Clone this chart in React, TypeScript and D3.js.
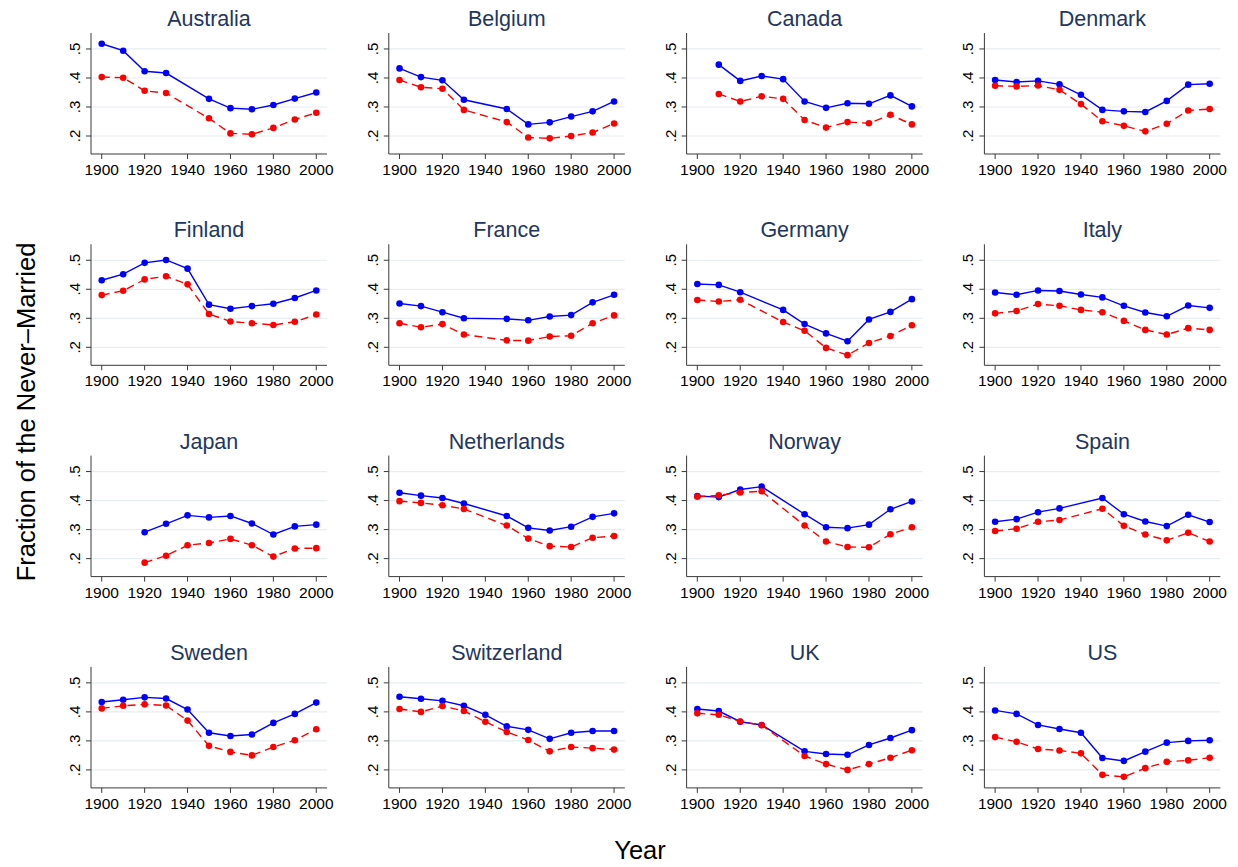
import React from "react";
import * as d3 from "d3";

// Census years shared by every country; null marks a year with no observation
const YEARS = [1900, 1910, 1920, 1930, 1940, 1950, 1960, 1970, 1980, 1990, 2000];

const COUNTRIES = [
  "Australia", "Belgium", "Canada", "Denmark",
  "Finland", "France", "Germany", "Italy",
  "Japan", "Netherlands", "Norway", "Spain",
  "Sweden", "Switzerland", "UK", "US",
];

// Solid blue series
const SOLID_SERIES: (number | null)[][] = [
  [0.518, 0.494, 0.423, 0.417, null, 0.328, 0.296, 0.292, 0.307, 0.329, 0.350],
  [0.433, 0.403, 0.392, 0.325, null, 0.293, 0.240, 0.247, 0.267, 0.285, 0.319],
  [null, 0.446, 0.390, 0.407, 0.396, 0.319, 0.297, 0.313, 0.311, 0.340, 0.302],
  [0.393, 0.386, 0.390, 0.378, 0.342, 0.290, 0.285, 0.283, 0.321, 0.377, 0.380],
  [0.431, 0.452, 0.491, 0.501, 0.471, 0.347, 0.333, 0.342, 0.350, 0.370, 0.396],
  [0.351, 0.342, 0.321, 0.300, null, 0.298, 0.293, 0.306, 0.311, 0.355, 0.381],
  [0.418, 0.415, 0.390, null, 0.329, 0.280, 0.248, 0.221, 0.296, 0.322, 0.366],
  [0.389, 0.381, 0.396, 0.394, 0.382, 0.372, 0.343, 0.320, 0.307, 0.344, 0.336],
  [null, null, 0.291, 0.320, 0.349, 0.342, 0.347, 0.321, 0.283, 0.311, 0.317],
  [0.427, 0.417, 0.409, 0.390, null, 0.347, 0.306, 0.297, 0.310, 0.344, 0.356],
  [0.416, 0.412, 0.438, 0.448, null, 0.353, 0.308, 0.305, 0.317, 0.370, 0.397],
  [0.327, 0.336, 0.360, 0.373, null, 0.409, 0.353, 0.328, 0.312, 0.351, 0.326],
  [0.434, 0.442, 0.450, 0.446, 0.408, 0.328, 0.317, 0.322, 0.362, 0.393, 0.432],
  [0.452, 0.445, 0.438, 0.421, 0.390, 0.350, 0.338, 0.307, 0.328, 0.334, 0.334],
  [0.410, 0.403, 0.366, 0.355, null, 0.264, 0.255, 0.252, 0.286, 0.310, 0.337],
  [0.405, 0.393, 0.355, 0.341, 0.328, 0.241, 0.231, 0.263, 0.294, 0.300, 0.302],
];

// Dashed red series
const DASHED_SERIES: (number | null)[][] = [
  [0.403, 0.401, 0.356, 0.348, null, 0.261, 0.209, 0.206, 0.228, 0.257, 0.280],
  [0.393, 0.368, 0.363, 0.290, null, 0.248, 0.195, 0.192, 0.200, 0.212, 0.243],
  [null, 0.345, 0.319, 0.337, 0.328, 0.255, 0.229, 0.248, 0.244, 0.273, 0.240],
  [0.373, 0.371, 0.374, 0.359, 0.310, 0.251, 0.235, 0.216, 0.242, 0.288, 0.293],
  [0.380, 0.395, 0.434, 0.445, 0.417, 0.315, 0.289, 0.283, 0.277, 0.288, 0.313],
  [0.283, 0.269, 0.280, 0.244, null, 0.224, 0.223, 0.237, 0.240, 0.283, 0.310],
  [0.363, 0.358, 0.364, null, 0.287, 0.257, 0.198, 0.173, 0.215, 0.239, 0.276],
  [0.317, 0.325, 0.349, 0.343, 0.329, 0.321, 0.291, 0.260, 0.244, 0.266, 0.260],
  [null, null, 0.186, 0.210, 0.246, 0.254, 0.268, 0.246, 0.207, 0.235, 0.236],
  [0.398, 0.392, 0.384, 0.371, null, 0.314, 0.269, 0.243, 0.240, 0.272, 0.278],
  [0.413, 0.418, 0.428, 0.432, null, 0.314, 0.259, 0.240, 0.239, 0.284, 0.308],
  [0.295, 0.303, 0.327, 0.333, null, 0.372, 0.313, 0.283, 0.263, 0.289, 0.259],
  [0.412, 0.421, 0.426, 0.422, 0.370, 0.283, 0.262, 0.250, 0.279, 0.302, 0.340],
  [0.410, 0.400, 0.420, 0.403, 0.366, 0.331, 0.303, 0.264, 0.279, 0.275, 0.270],
  [0.395, 0.390, 0.367, 0.354, null, 0.248, 0.220, 0.200, 0.220, 0.242, 0.268],
  [0.313, 0.297, 0.272, 0.267, 0.257, 0.183, 0.176, 0.206, 0.228, 0.233, 0.242],
];

const Y_TICKS = [0.2, 0.3, 0.4, 0.5];
const X_TICKS = [1900, 1920, 1940, 1960, 1980, 2000];

const WIDTH = 1238;
const HEIGHT = 867;
const FONT = "'Liberation Sans', Arial, Helvetica, sans-serif";

const COL_X0 = 91;
const COL_STEP = 297.8;
const ROW_Y0 = 33;
const ROW_STEP = 211.3;
const PLOT_W = 236;
const PLOT_H = 121;

const SOLID_COLOR = "#0000ff";
const DASHED_COLOR = "#ff0000";
const TITLE_COLOR = "#23365e";
const GRID_COLOR = "#e6eef1";
const AXIS_COLOR = "#3a3a3a";

type Pt = { year: number; value: number };

function toPoints(values: (number | null)[]): Pt[] {
  const out: Pt[] = [];
  values.forEach((v, i) => {
    if (v !== null) out.push({ year: YEARS[i], value: v });
  });
  return out;
}

function Panel({ index }: { index: number }) {
  const col = index % 4;
  const row = Math.floor(index / 4);
  const x0 = COL_X0 + col * COL_STEP;
  const top = ROW_Y0 + row * ROW_STEP;
  const bottom = top + PLOT_H;

  const x = d3.scaleLinear().domain([1895, 2005]).range([x0, x0 + PLOT_W]);
  const y = d3.scaleLinear().domain([0.138, 0.555]).range([bottom, top]);

  const line = d3
    .line<Pt>()
    .x((d) => x(d.year))
    .y((d) => y(d.value));

  const solid = toPoints(SOLID_SERIES[index]);
  const dashed = toPoints(DASHED_SERIES[index]);

  return (
    <g>
      <text
        x={x0 + PLOT_W / 2}
        y={top - 7}
        textAnchor="middle"
        fontSize={21.5}
        fill={TITLE_COLOR}
        fontFamily={FONT}
      >
        {COUNTRIES[index]}
      </text>
      {Y_TICKS.map((t) => (
        <line
          key={`g${t}`}
          x1={x0}
          x2={x0 + PLOT_W}
          y1={y(t)}
          y2={y(t)}
          stroke={GRID_COLOR}
          strokeWidth={1.2}
        />
      ))}
      <line x1={x0} x2={x0} y1={top} y2={bottom} stroke={AXIS_COLOR} strokeWidth={1} />
      <line x1={x0} x2={x0 + PLOT_W} y1={bottom} y2={bottom} stroke={AXIS_COLOR} strokeWidth={1} />
      {Y_TICKS.map((t) => (
        <g key={`y${t}`}>
          <line x1={x0 - 5} x2={x0} y1={y(t)} y2={y(t)} stroke={AXIS_COLOR} strokeWidth={1} />
          <text
            transform={`translate(${x0 - 11},${y(t)}) rotate(-90)`}
            textAnchor="middle"
            fontSize={15}
            fill="#000"
            fontFamily={FONT}
          >
            {d3.format(".1f")(t).replace(/^0/, "")}
          </text>
        </g>
      ))}
      {X_TICKS.map((t) => (
        <g key={`x${t}`}>
          <line x1={x(t)} x2={x(t)} y1={bottom} y2={bottom + 5} stroke={AXIS_COLOR} strokeWidth={1} />
          <text
            x={x(t)}
            y={bottom + 21}
            textAnchor="middle"
            fontSize={15.5}
            fill="#000"
            fontFamily={FONT}
          >
            {t}
          </text>
        </g>
      ))}
      <path d={line(solid) ?? ""} fill="none" stroke={SOLID_COLOR} strokeWidth={1.4} />
      <path
        d={line(dashed) ?? ""}
        fill="none"
        stroke={DASHED_COLOR}
        strokeWidth={1.4}
        strokeDasharray="8,5"
      />
      {solid.map((d) => (
        <circle key={`s${d.year}`} cx={x(d.year)} cy={y(d.value)} r={3.3} fill={SOLID_COLOR} />
      ))}
      {dashed.map((d) => (
        <circle key={`d${d.year}`} cx={x(d.year)} cy={y(d.value)} r={3.3} fill={DASHED_COLOR} />
      ))}
    </g>
  );
}

export default function App() {
  return (
    <svg
      width={WIDTH}
      height={HEIGHT}
      style={{ position: "absolute", left: 0, top: 0, background: "#fff" }}
    >
      <rect width={WIDTH} height={HEIGHT} fill="#fff" />
      {COUNTRIES.map((_, i) => (
        <Panel key={COUNTRIES[i]} index={i} />
      ))}
      <text
        transform="translate(35,412) rotate(-90)"
        textAnchor="middle"
        fontSize={25.5}
        fill="#000"
        fontFamily={FONT}
      >
        Fraction of the Never–Married
      </text>
      <text x={640} y={859} textAnchor="middle" fontSize={25.5} fill="#000" fontFamily={FONT}>
        Year
      </text>
    </svg>
  );
}
